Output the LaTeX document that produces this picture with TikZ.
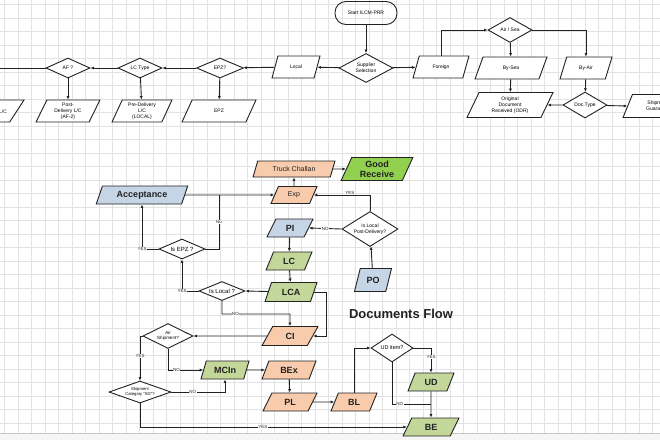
\documentclass[tikz,border=0pt]{standalone}
\usepackage{fontspec}
\setmainfont{Liberation Sans}
\usetikzlibrary{shapes.geometric,arrows.meta}
\definecolor{peach}{HTML}{F8CBAD}
\definecolor{sage}{HTML}{C4D79B}
\definecolor{lime}{HTML}{92D050}
\definecolor{steel}{HTML}{C6D5E6}
\definecolor{ink}{HTML}{222222}
\definecolor{gridgray}{HTML}{E2E2E2}

\begin{document}
\begin{tikzpicture}[x=1pt, y=-1pt, line width=0.9pt,
  tiny/.style={font=\fontsize{5}{6}\selectfont},
  para/.style={trapezium, trapezium left angle=68, trapezium right angle=112,
    trapezium stretches=true, draw=ink, fill=white, inner sep=1pt, align=center, tiny},
  box/.style={para, text=ink, font=\bfseries\fontsize{9}{10}\selectfont},
  decide/.style={diamond, draw=ink, fill=white, inner sep=0pt, align=center, tiny},
  arr/.style={draw=ink, -{Latex[length=3.5pt,width=3pt]}},
  wire/.style={draw=ink},
  lbl/.style={fill=white, inner sep=0.5pt, text=ink, font=\fontsize{4.5}{5}\selectfont}]

\useasboundingbox (0,0) rectangle (660,440);
\clip (0,0) rectangle (660,440);
\fill[white] (0,0) rectangle (660,440);
\foreach \gx in {0,...,48}
  \draw[gridgray, line width=0.5pt] ({4.5+13.5*\gx},0) -- ({4.5+13.5*\gx},433);
\foreach \gy in {0,...,31}
  \draw[gridgray, line width=0.5pt] (0,{4.3+13.5*\gy}) -- (660,{4.3+13.5*\gy});
\fill[gray!8] (0,433) rectangle (660,440);
\draw[gray!45] (0,433) -- (660,433);

% import flow
\node[draw=ink, rounded corners=11pt, minimum width=62pt, minimum height=23pt, tiny] (start) at (366,13) {Start ILCM-PRR};
\node[decide, minimum width=54pt, minimum height=29pt, shape aspect=1.8] (supsel) at (366,68) {Supplier\\Selection};
\node[para, minimum width=48pt, minimum height=22pt] (local) at (296,67) {Local};
\node[decide, minimum width=47pt, minimum height=20pt, shape aspect=2.3] (epzq) at (220,68) {EPZ?};
\node[decide, minimum width=44pt, minimum height=20pt, shape aspect=2.2] (lctype) at (140,68) {LC Type};
\node[decide, minimum width=44pt, minimum height=20pt, shape aspect=2.2] (afq) at (68,68) {AF ?};
\coordinate (leftend) at (0,68);
\node[para, minimum width=74pt, minimum height=22pt] (epz) at (219,111) {EPZ};
\node[para, minimum width=60pt, minimum height=22pt] (predel) at (142,111) {Pre-Delivery\\L/C\\(LOCAL)};
\node[para, minimum width=64pt, minimum height=22pt] (postdel) at (68,111) {Post-\\Delivery L/C\\(AF-2)};
\node[para, minimum width=64pt, minimum height=22pt] (otherlc) at (-8,111) {};
\node[tiny] (otherlctext) at (3,112) {L/C};
\node[para, minimum width=56pt, minimum height=22pt] (foreign) at (441,67) {Foreign};
\node[decide, minimum width=44pt, minimum height=25pt, shape aspect=1.8] (airsea) at (510,30) {Air / Sea};
\node[para, minimum width=72pt, minimum height=22pt] (bysea) at (511,68) {By-Sea};
\node[para, minimum width=52pt, minimum height=22pt] (byair) at (586,68) {By-Air};
\node[para, minimum width=86pt, minimum height=25pt] (odr) at (510,105) {Original\\Document\\Received (ODR)};
\node[decide, minimum width=44pt, minimum height=26pt, shape aspect=1.7] (doctype) at (585,105) {Doc.Type};
\node[para, minimum width=70pt, minimum height=23pt] (shipg) at (658,106) {Shipment\\Guarantee};

\draw[arr] (start) -- (supsel);
\draw[arr] (supsel) -- (local);
\draw[arr] (local) -- (epzq);
\draw[arr] (epzq) -- (lctype);
\draw[arr] (lctype) -- (afq);
\draw[wire] (afq) -- (leftend);
\draw[arr] (epzq) -- (epz);
\draw[arr] (lctype) -- (predel);
\draw[arr] (afq) -- (postdel);
\draw[arr] (supsel) -- (foreign);
\draw[arr] (foreign.north) |- (airsea);
\draw[arr] (airsea) -- (bysea);
\draw[arr] (airsea.east) -| (byair.north);
\draw[arr] (bysea) -- (odr);
\draw[arr] (byair) -- (doctype);
\draw[arr] (doctype) -- (odr.east);
\draw[arr] (doctype) -- (shipg.west);

% documents flow
\node[box, fill=peach, minimum width=82pt, minimum height=16pt, font=\fontsize{7}{8}\selectfont] (truck) at (294,169) {Truck Challan};
\node[box, fill=lime, minimum width=72pt, minimum height=23pt] (good) at (377,169) {Good\\Receive};
\node[box, fill=peach, minimum width=46pt, minimum height=17pt, font=\fontsize{7}{8}\selectfont] (exp) at (294,195) {Exp};
\node[box, fill=steel, minimum width=92pt, minimum height=18pt] (accept) at (142,195) {Acceptance};
\node[decide, minimum width=46pt, minimum height=20pt, shape aspect=2.3, font=\fontsize{6}{7}\selectfont] (isepz) at (182,249) {Is EPZ ?};
\node[decide, minimum width=56pt, minimum height=35pt, shape aspect=1.6] (islpd) at (370,229) {Is Local\\Post-Delivery?};
\node[box, fill=steel, minimum width=46pt, minimum height=18pt] (pi) at (290,228) {PI};
\node[box, fill=steel, minimum width=37pt, minimum height=23pt] (po) at (373,280) {PO};
\node[box, fill=sage, minimum width=46pt, minimum height=18pt] (lc) at (289,261) {LC};
\node[box, fill=sage, minimum width=52pt, minimum height=19pt] (lca) at (291,292) {LCA};
\node[decide, minimum width=46pt, minimum height=19pt, shape aspect=2.4, font=\fontsize{6}{7}\selectfont] (islocal) at (222,291) {Is Local ?};
\node[box, fill=peach, minimum width=56pt, minimum height=19pt] (ci) at (290,336) {CI};
\node[decide, minimum width=50pt, minimum height=25pt, shape aspect=2, font=\fontsize{4.5}{5}\selectfont] (airship) at (168,336) {Air\\Shipment?};
\node[box, fill=sage, minimum width=48pt, minimum height=18pt] (mcin) at (225,370) {MCIn};
\node[box, fill=peach, minimum width=54pt, minimum height=18pt] (bex) at (289,370) {BEx};
\node[box, fill=peach, minimum width=54pt, minimum height=18pt] (pl) at (290,402) {PL};
\node[box, fill=peach, minimum width=46pt, minimum height=18pt] (bl) at (354,402) {BL};
\node[decide, minimum width=42pt, minimum height=28pt, shape aspect=1.5, font=\fontsize{5.5}{6}\selectfont] (udq) at (392,348) {UD item?};
\node[box, fill=sage, minimum width=46pt, minimum height=18pt] (ud) at (431,382) {UD};
\node[box, fill=sage, minimum width=56pt, minimum height=18pt] (be) at (431,427) {BE};
\node[decide, minimum width=62pt, minimum height=22pt, shape aspect=2.8, font=\fontsize{4.2}{4.6}\selectfont] (shipcat) at (140,392) {Shipment\\Category ``SG''?};
\node[font=\bfseries\fontsize{13}{14}\selectfont, text=ink] (title) at (401,314) {Documents Flow};
\coordinate (nojoin) at (219,195);
\coordinate (cibend) at (290,314);
\coordinate (rside) at (326,0);
\coordinate (udjoin) at (431,404);

\draw[arr] (truck) -- (good);
\draw[arr] (exp) -- (truck);
\draw[arr] (accept) -- (exp);
\draw[wire] (isepz.east) -| node[lbl, pos=0.75] {No} (nojoin);
\draw[arr] (isepz.west) -| node[lbl, pos=0.5] {YES} (accept.south);
\draw[arr] (islpd.north) |- node[lbl, pos=0.68, yshift=2pt] {YES} (exp.east);
\draw[arr] (islpd.west) -- node[lbl] {NO} (pi.east);
\draw[arr] (po) -- (islpd);
\draw[arr] (pi) -- (lc);
\draw[arr] (lc) -- (lca);
\draw[arr] (lca) -- (islocal.east);
\draw[arr] (islocal.west) -| node[lbl, pos=0.5] {YES} (isepz.south);
\draw[arr] (islocal.south) |- node[lbl, pos=0.6] {NO} (cibend) -- (ci.north);
\draw[arr] (lca.east) -- (lca.east -| rside) |- (ci.east);
\draw[arr] (ci) -- (airship.east);
\draw[arr] (airship.west) -| node[lbl, pos=0.72] {YES} (shipcat.north);
\draw[arr] (airship.south) |- node[lbl, pos=0.62] {NO} (mcin.west);
\draw[arr] (mcin) -- (bex);
\draw[arr] (bex) -- (pl);
\draw[arr] (pl) -- (bl);
\draw[arr] (bl.north) |- (udq.west);
\draw[arr] (udq.east) -| node[lbl, pos=0.69] {YES} (ud.north);
\draw[arr] (ud) -- (be);
\draw[wire] (udq.south) |- node[lbl, pos=0.6] {NO} (udjoin);
\draw[arr] (shipcat.east) -| node[lbl, pos=0.2] {NO} (mcin.south);
\draw[arr] (shipcat.south) |- node[lbl, pos=0.73] {YES} (be.west);
\end{tikzpicture}
\end{document}
